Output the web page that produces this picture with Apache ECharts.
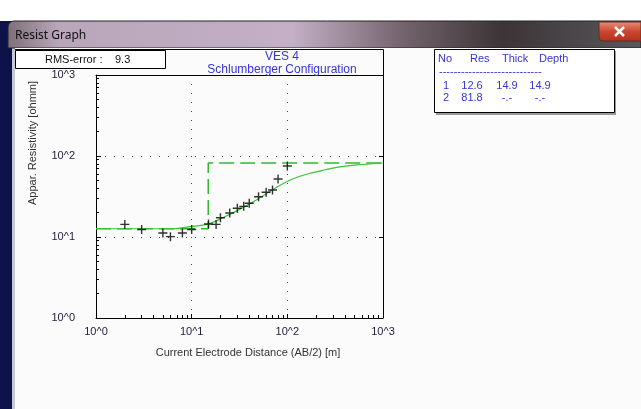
<!DOCTYPE html>
<html>
<head>
<meta charset="utf-8">
<title>Resist Graph</title>
<script src="https://cdn.jsdelivr.net/npm/echarts@6/dist/echarts.min.js"></script>
<style>
  html, body { margin: 0; padding: 0; background: #fafafa; }
  #chart { width: 641px; height: 409px; }
</style>
</head>
<body>
<div id="chart"></div>
<script>
// measured sounding points: AB/2 [m] / apparent resistivity [ohmm]
var abHalf = [2, 3, 5, 6, 8, 10, 15, 18, 20, 25, 30, 35, 40, 50, 60, 70, 80, 100]
var appRes = [14.3, 12.4, 11.2, 10.1, 11.2, 12.4, 14.5, 14.3, 17.3, 19.8, 22.6, 23.9, 26.1, 31.4, 35.7, 38.0, 52.0, 75.3]

// fitted curve
var fitX = [1, 3.7, 6.4, 9.6, 14.7, 21.4, 32, 47.8, 71.2, 106, 159, 237, 355, 530, 1000]
var fitY = [12.65, 12.65, 12.65, 13.4, 14.4, 17.4, 22.1, 28.8, 38.9, 50.2, 59.5, 66.7, 73.3, 77.5, 82]

// layer model
var layerNo = [1, 2]
var layerRes = [12.6, 81.8]
var layerThick = ['14.9', '-.-']
var layerDepth = ['14.9', '-.-']

var rmsError = '9.3'
var decadeLabels = ['10^0', '10^1', '10^2', '10^3']
var minorTicks = [2, 3, 4, 5, 6, 7, 8, 9, 20, 30, 40, 50, 60, 70, 80, 90, 200, 300, 400, 500, 600, 700, 800, 900]

var FONT = '"Liberation Sans", Arial, sans-serif'
var BLUE = '#3434d8'

var measured = abHalf.map(function(x, i) { return [x, appRes[i]] })
var fitted = fitX.map(function(x, i) { return [x, fitY[i]] })
var depth1 = parseFloat(layerDepth[0])
var stepModel = [
  [1, layerRes[0]],
  [depth1, layerRes[0]],
  [depth1, layerRes[1]],
  [1000, layerRes[1]]
]

function decadeLabel(v) {
  return decadeLabels[Math.round(Math.log(v) / Math.LN10)]
}

// window chrome + text boxes
var graphics = [
  { type: 'rect', silent: true, z: 0, shape: { x: 0, y: 0, width: 641, height: 21 }, style: { fill: '#ffffff' } },
  { type: 'rect', silent: true, z: 0, shape: { x: 0, y: 21, width: 12, height: 388 }, style: { fill: '#0d1249' } },
  { type: 'rect', silent: true, z: 0, shape: { x: 12, y: 21, width: 3, height: 388 }, style: { fill: '#c6cad6' } },
  {
    type: 'rect', silent: true, z: 0,
    shape: { x: 8, y: 21, width: 633, height: 27, r: [6, 0, 0, 0] },
    style: {
      fill: new echarts.graphic.LinearGradient(0, 0, 1, 0, [
        { offset: 0, color: '#7e6f79' },
        { offset: 0.08, color: '#b9a6ba' },
        { offset: 0.45, color: '#c4afc6' },
        { offset: 0.62, color: '#75656e' },
        { offset: 0.78, color: '#3c3436' },
        { offset: 1, color: '#58585c' }
      ]),
      stroke: '#222', lineWidth: 1
    }
  },
  { type: 'text', silent: true, z: 1, x: 15, y: 36, style: { text: 'Resist Graph', fill: '#111', fontSize: 12, fontFamily: '"Noto Sans", sans-serif', verticalAlign: 'middle' } },
  {
    type: 'rect', silent: true, z: 1,
    shape: { x: 599, y: 22, width: 42, height: 19, r: [0, 0, 0, 4] },
    style: {
      fill: new echarts.graphic.LinearGradient(0, 0, 0, 1, [
        { offset: 0, color: '#e9907c' },
        { offset: 0.5, color: '#cc4630' },
        { offset: 1, color: '#b0301c' }
      ]),
      stroke: '#6a2a20'
    }
  },
  { type: 'line', silent: true, z: 2, shape: { x1: 615, y1: 27, x2: 624, y2: 36 }, style: { stroke: '#fff', lineWidth: 2.5 } },
  { type: 'line', silent: true, z: 2, shape: { x1: 624, y1: 27, x2: 615, y2: 36 }, style: { stroke: '#fff', lineWidth: 2.5 } },
  { type: 'rect', silent: true, z: 0, shape: { x: 15, y: 48, width: 626, height: 361 }, style: { fill: '#fbfbfb' } },

  // title panel above the plot
  { type: 'line', silent: true, z: 3, shape: { x1: 15, y1: 49.5, x2: 383.5, y2: 49.5 }, style: { stroke: '#000', lineWidth: 1 } },
  { type: 'line', silent: true, z: 3, shape: { x1: 383.5, y1: 49.5, x2: 383.5, y2: 75.5 }, style: { stroke: '#000', lineWidth: 1 } },
  { type: 'text', silent: true, z: 3, x: 282, y: 57, style: { text: 'VES 4', fill: BLUE, fontSize: 12, fontFamily: FONT, align: 'center', verticalAlign: 'middle' } },
  { type: 'text', silent: true, z: 3, x: 282, y: 70, style: { text: 'Schlumberger Configuration', fill: BLUE, fontSize: 12, fontFamily: FONT, align: 'center', verticalAlign: 'middle' } },

  // RMS box
  { type: 'rect', silent: true, z: 4, shape: { x: 15.5, y: 50.5, width: 150, height: 18 }, style: { fill: '#ffffff', stroke: '#000', lineWidth: 1 } },
  { type: 'text', silent: true, z: 5, x: 45, y: 60, style: { text: 'RMS-error :', fill: '#111', fontSize: 11, fontFamily: FONT, verticalAlign: 'middle' } },
  { type: 'text', silent: true, z: 5, x: 115, y: 60, style: { text: rmsError, fill: '#111', fontSize: 11, fontFamily: FONT, verticalAlign: 'middle' } },

  // y axis title
  {
    type: 'text', silent: true, z: 3, x: 33, y: 143, rotation: Math.PI / 2,
    style: { text: 'Appar. Resistivity [ohmm]', fill: '#333', fontSize: 11, fontFamily: FONT, align: 'center', verticalAlign: 'middle' }
  },

  // layer table
  { type: 'rect', silent: true, z: 3, shape: { x: 436, y: 51, width: 180, height: 64 }, style: { fill: '#9a9a9a' } },
  { type: 'rect', silent: true, z: 4, shape: { x: 434.5, y: 49.5, width: 180, height: 63 }, style: { fill: '#ffffff', stroke: '#000', lineWidth: 1 } }
]

var headers = ['No', 'Res', 'Thick', 'Depth']
var headerX = [438, 470, 502, 539]
headers.forEach(function(h, j) {
  graphics.push({ type: 'text', silent: true, z: 5, x: headerX[j], y: 59, style: { text: h, fill: BLUE, fontSize: 11, fontFamily: FONT, verticalAlign: 'middle' } })
})
graphics.push({ type: 'text', silent: true, z: 5, x: 439, y: 72, style: { text: '----------------------------', fill: BLUE, fontSize: 11, fontFamily: FONT, verticalAlign: 'middle' } })

var colX = [446, 472, 507, 540]
layerNo.forEach(function(n, i) {
  var cells = [String(n), layerRes[i].toFixed(1), layerThick[i], layerDepth[i]]
  cells.forEach(function(t, j) {
    graphics.push({
      type: 'text', silent: true, z: 5, x: colX[j], y: 86 + i * 12,
      style: { text: t, fill: BLUE, fontSize: 11, fontFamily: FONT, align: 'center', verticalAlign: 'middle' }
    })
  })
})

var axisText = { color: '#1c1c3c', fontSize: 11, fontFamily: FONT }
var dotted = { show: true, lineStyle: { color: '#444', width: 1, type: [1, 8] } }

var option = {
  animation: false,
  backgroundColor: '#fbfbfb',
  graphic: graphics,
  grid: { left: 96, right: 258, top: 75, bottom: 91, containLabel: false },
  xAxis: [
    {
      type: 'log', logBase: 10, min: 1, max: 1000, position: 'bottom',
      axisLine: { show: true, lineStyle: { color: '#000', width: 1 } },
      axisTick: { show: true, inside: true, length: 4, lineStyle: { color: '#000' } },
      axisLabel: Object.assign({ margin: 8, formatter: decadeLabel }, axisText),
      splitLine: dotted,
      name: 'Current Electrode Distance (AB/2) [m]',
      nameLocation: 'middle', nameGap: 29,
      nameTextStyle: { color: '#333', fontSize: 11, fontFamily: FONT, padding: [0, 0, 0, 17] }
    },
    {
      type: 'log', logBase: 10, min: 1, max: 1000, position: 'bottom',
      axisLine: { show: false },
      axisTick: { show: true, inside: true, length: 3, customValues: minorTicks, lineStyle: { color: '#000' } },
      axisLabel: { show: false },
      splitLine: { show: false }
    },
    {
      type: 'log', logBase: 10, min: 1, max: 1000, position: 'top',
      axisLine: { show: true, lineStyle: { color: '#000', width: 1 } },
      axisTick: { show: false },
      axisLabel: { show: false },
      splitLine: { show: false }
    }
  ],
  yAxis: [
    {
      type: 'log', logBase: 10, min: 1, max: 1000, position: 'left',
      axisLine: { show: true, lineStyle: { color: '#000', width: 1 } },
      axisTick: { show: true, inside: true, length: 5, lineStyle: { color: '#000' } },
      axisLabel: Object.assign({ margin: 21, formatter: decadeLabel }, axisText),
      splitLine: dotted
    },
    {
      type: 'log', logBase: 10, min: 1, max: 1000, position: 'left',
      axisLine: { show: false },
      axisTick: { show: true, inside: true, length: 3, customValues: minorTicks, lineStyle: { color: '#000' } },
      axisLabel: { show: false },
      splitLine: { show: false }
    },
    {
      type: 'log', logBase: 10, min: 1, max: 1000, position: 'right',
      axisLine: { show: true, lineStyle: { color: '#000', width: 1 } },
      axisTick: { show: true, inside: true, length: 4, lineStyle: { color: '#000' } },
      axisLabel: { show: false },
      splitLine: { show: false }
    }
  ],
  series: [
    {
      name: 'model',
      type: 'line',
      data: stepModel,
      symbol: 'none',
      z: 2,
      lineStyle: { color: '#34b834', width: 1.5, type: [15, 6] }
    },
    {
      name: 'fit',
      type: 'line',
      data: fitted,
      symbol: 'none',
      smooth: 0.3,
      z: 3,
      lineStyle: { color: '#3cc43c', width: 1.2 }
    },
    {
      name: 'measured',
      type: 'scatter',
      data: measured,
      symbol: 'path://M0,5L10,5M5,0L5,10',
      symbolSize: 9,
      z: 4,
      itemStyle: { color: 'none', borderColor: '#000', borderWidth: 1.4 }
    }
  ]
}

var myChart = echarts.init(document.getElementById('chart'))
myChart.setOption(option)
</script>
</body>
</html>
